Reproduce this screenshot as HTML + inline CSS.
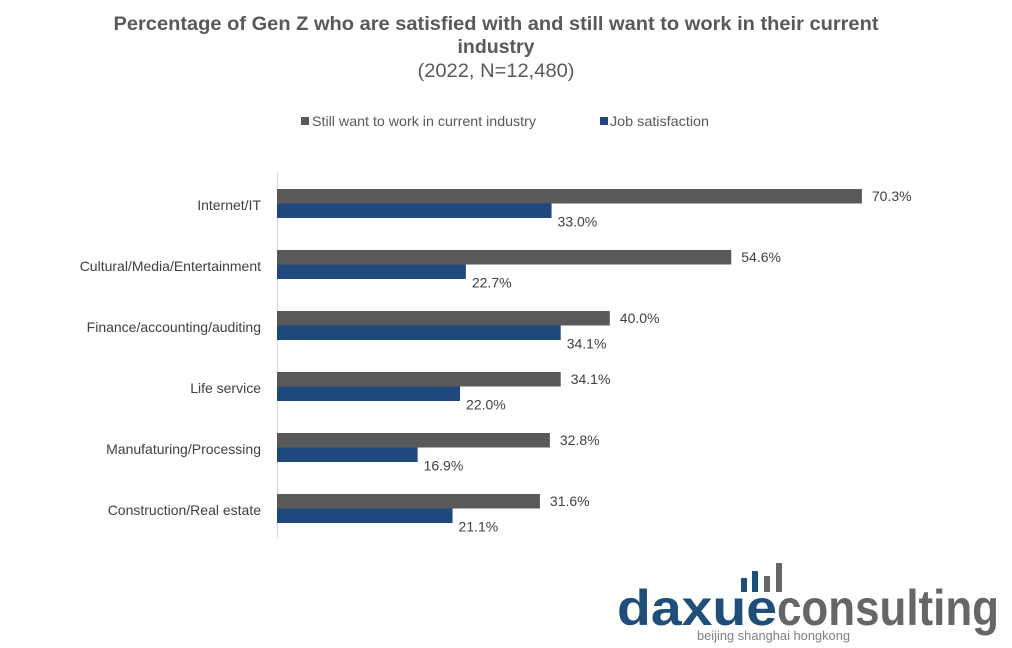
<!DOCTYPE html>
<html><head><meta charset="utf-8"><style>
body{margin:0;background:#fff;}
svg{display:block;font-family:"Liberation Sans",Arial,sans-serif;}
</style></head><body>
<svg width="1012" height="648" viewBox="0 0 1012 648">
<text x="496" y="30" text-anchor="middle" font-size="19" font-weight="bold" fill="#595959" textLength="765" lengthAdjust="spacingAndGlyphs">Percentage of Gen Z who are satisfied with and still want to work in their current</text>
<text x="496" y="53" text-anchor="middle" font-size="19" font-weight="bold" fill="#595959" textLength="77" lengthAdjust="spacingAndGlyphs">industry</text>
<text x="496" y="77" text-anchor="middle" font-size="19" fill="#595959" textLength="157" lengthAdjust="spacingAndGlyphs">(2022, N=12,480)</text>
<g>
<rect x="301" y="117" width="8" height="8" fill="#595959"/>
<text x="312" y="126" font-size="14" fill="#595959" textLength="224" lengthAdjust="spacingAndGlyphs">Still want to work in current industry</text>
<rect x="600" y="117" width="8" height="8" fill="#1F497D"/>
<text x="610" y="126" font-size="14" fill="#595959" textLength="99" lengthAdjust="spacingAndGlyphs">Job satisfaction</text>
</g>
<line x1="277.5" y1="172" x2="277.5" y2="538" stroke="#d9d9d9" stroke-width="1"/>
<g id="bars"></g>
<g>
<rect x="741" y="578" width="6" height="14" fill="#1F4E79"/>
<rect x="752" y="571" width="6" height="21" fill="#1F4E79"/>
<rect x="764" y="576" width="6" height="16" fill="#666"/>
<rect x="776" y="563" width="6" height="29" fill="#666"/>
<text x="617" y="625" font-size="50" font-weight="bold" fill="#1F4E79" textLength="160" lengthAdjust="spacingAndGlyphs">daxue</text>
<text x="777" y="625" font-size="50" font-weight="bold" fill="#666" textLength="222" lengthAdjust="spacingAndGlyphs">consulting</text>
<text x="697" y="640" font-size="13" fill="#808080" textLength="153" lengthAdjust="spacingAndGlyphs">beijing shanghai hongkong</text>
</g>
</svg>
<script>
const categories=["Internet/IT","Cultural/Media/Entertainment","Finance/accounting/auditing","Life service","Manufaturing/Processing","Construction/Real estate"];
const stillWant=[70.3,54.6,40.0,34.1,32.8,31.6];
const satisfaction=[33.0,22.7,34.1,22.0,16.9,21.1];
const ns="http://www.w3.org/2000/svg";
const g=document.getElementById('bars');
const x0=277,scale=8.32,top0=189,step=61,bh=14.5;
function xs(v){return v*scale;}
function mk(t,a){const e=document.createElementNS(ns,t);for(const k in a)e.setAttribute(k,a[k]);g.appendChild(e);return e;}
categories.forEach((c,i)=>{
 const y=top0+i*step;
 const lab=mk('text',{x:261,y:y+21,'text-anchor':'end','font-size':14,fill:'#404040'});
 lab.textContent=c;
 
 
 const r1=mk('rect',{x:x0,y:y,width:xs(stillWant[i]),height:bh,fill:'#595959'});
 
 
 const r2=mk('rect',{x:x0,y:y+bh,width:xs(satisfaction[i]),height:bh,fill:'#1F497D'});
 
 
 const t1=mk('text',{x:x0+xs(stillWant[i])+10,y:y+12,'font-size':14,fill:'#404040'});
 t1.textContent=stillWant[i].toFixed(1)+'%';
 
 
 const t2=mk('text',{x:x0+xs(satisfaction[i])+6,y:y+bh+23,'font-size':14,fill:'#404040'});
 t2.textContent=satisfaction[i].toFixed(1)+'%';
 
 
});
</script>
</body></html>
